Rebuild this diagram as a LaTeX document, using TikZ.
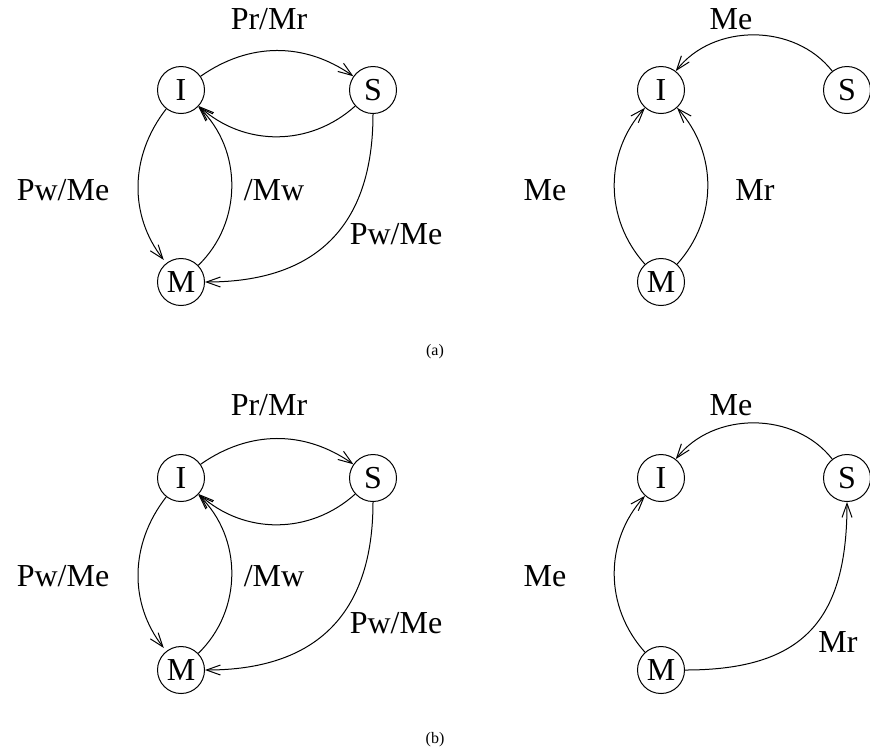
\documentclass[tikz,border=0pt]{standalone}
\usepackage{fontspec}
\setmainfont{Liberation Serif}
\usetikzlibrary{arrows.meta}
\begin{document}
\begin{tikzpicture}[x=0.5pt,y=-0.5pt,
  st/.style={circle,draw,line width=0.5pt,minimum size=23.5pt,inner sep=0pt,font=\fontsize{16}{18}\selectfont},
  lbl/.style={font=\fontsize{16}{18}\selectfont,inner sep=0pt},
  captext/.style={font=\fontsize{8}{10}\selectfont,inner sep=0pt},
  tr/.style={line width=0.5pt,-{Straight Barb[length=7pt,width=5pt,line width=0.5pt]}}]
\useasboundingbox (0,0) rectangle (870,751);
% ---------- (a) left
\node[st] (I1) at (181,90) {I};
\node[st] (S1) at (373,90) {S};
\node[st] (M1) at (181,282) {M};
\draw[tr] (I1) to[bend left=35] (S1);
\draw[tr] (S1) to[bend left=42] (I1);
\draw[tr,shorten >=2pt] (I1) to[bend right=38] (M1);
\draw[tr] (M1) to[bend right=46] (I1);
\draw[tr] (S1) to[out=-90,in=0,looseness=1.2] (M1);
\node[lbl] (l1) at (269,19) {Pr/Mr};
\node[lbl] (l2) at (63,190) {Pw/Me};
\node[lbl] (l3) at (274,190) {/Mw};
\node[lbl] (l4) at (396,234) {Pw/Me};
% ---------- (a) right
\node[st] (I2) at (661,90) {I};
\node[st] (S2) at (847,90) {S};
\node[st] (M2) at (661,282) {M};
\draw[tr] (S2) to[bend right=52] (I2);
\draw[tr] (M2) to[bend left=42] (I2);
\draw[tr] (M2) to[bend right=42] (I2);
\node[lbl] (l5) at (731,19) {Me};
\node[lbl] (l6) at (545,190) {Me};
\node[lbl] (l7) at (755,190) {Mr};
\node[captext] (ca) at (435,352) {(a)};
% ---------- (b) left
\node[st] (I3) at (181,478) {I};
\node[st] (S3) at (373,478) {S};
\node[st] (M3) at (181,670) {M};
\draw[tr] (I3) to[bend left=35] (S3);
\draw[tr] (S3) to[bend left=42] (I3);
\draw[tr,shorten >=2pt] (I3) to[bend right=38] (M3);
\draw[tr] (M3) to[bend right=46] (I3);
\draw[tr] (S3) to[out=-90,in=0,looseness=1.2] (M3);
\node[lbl] (l8) at (269,405) {Pr/Mr};
\node[lbl] (l9) at (63,576) {Pw/Me};
\node[lbl] (l10) at (274,576) {/Mw};
\node[lbl] (l11) at (396,623) {Pw/Me};
% ---------- (b) right
\node[st] (I4) at (661,478) {I};
\node[st] (S4) at (847,478) {S};
\node[st] (M4) at (661,670) {M};
\draw[tr] (S4) to[bend right=52] (I4);
\draw[tr] (M4) to[bend left=42] (I4);
\draw[tr] (M4) to[out=0,in=-90,looseness=1.3] (S4);
\node[lbl] (l12) at (731,405) {Me};
\node[lbl] (l13) at (545,576) {Me};
\node[lbl] (l14) at (838,642) {Mr};
\node[captext] (cb) at (435,740) {(b)};
\end{tikzpicture}
\end{document}
